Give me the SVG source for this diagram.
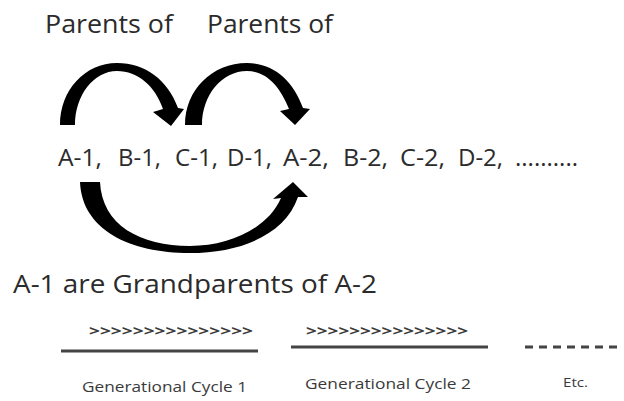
<svg xmlns="http://www.w3.org/2000/svg" width="624" height="401" viewBox="0 0 624 401">
<style>
.t{font-family:"Open Sans","Noto Sans","DejaVu Sans",sans-serif;fill:#2b2b2b}
.big{font-size:25px}
.mid{font-size:23px}
.sm{font-size:15px;fill:#3a3a3a}
.chev{font-size:15px;fill:#3a3a3a;font-weight:bold}
.xs{font-size:12px;fill:#3a3a3a}
.arr{fill:#000}
.rule{stroke:#444;stroke-width:3;fill:none}
</style>
<rect width="624" height="401" fill="#fff"/>
<g id="label-parents-1"><text class="t big" x="45" y="33" textLength="128" lengthAdjust="spacingAndGlyphs">Parents of</text></g>
<g id="label-parents-2"><text class="t big" x="207" y="33" textLength="126" lengthAdjust="spacingAndGlyphs">Parents of</text></g>
<g id="sequence">
<text class="t mid" x="58" y="166" textLength="44" lengthAdjust="spacingAndGlyphs">A-1,</text>
<text class="t mid" x="118" y="166" textLength="43" lengthAdjust="spacingAndGlyphs">B-1,</text>
<text class="t mid" x="175" y="166" textLength="43" lengthAdjust="spacingAndGlyphs">C-1,</text>
<text class="t mid" x="227" y="166" textLength="45" lengthAdjust="spacingAndGlyphs">D-1,</text>
<text class="t mid" x="283" y="166" textLength="46" lengthAdjust="spacingAndGlyphs">A-2,</text>
<text class="t mid" x="343" y="166" textLength="45" lengthAdjust="spacingAndGlyphs">B-2,</text>
<text class="t mid" x="400" y="166" textLength="45" lengthAdjust="spacingAndGlyphs">C-2,</text>
<text class="t mid" x="458" y="166" textLength="45" lengthAdjust="spacingAndGlyphs">D-2,</text>
<text class="t mid" x="515" y="166" textLength="63" lengthAdjust="spacingAndGlyphs">..........</text>
</g>
<g id="label-grandparents"><text class="t big" x="13" y="293" textLength="364" lengthAdjust="spacingAndGlyphs">A-1 are Grandparents of A-2</text></g>
<g id="connectors">
<path class="arr" d="M60,125 C60,90 85,63 117,63 C145,63 168,80 178,108 L184,109 L171,126 L153,112 L163,109 C155,86 138,71 117,71 C94,71 75,95 75,125 Z"/>
<path class="arr" d="M185,125 C185,90 212,63 247,63 C273,63 293,80 303,108 L310,109 L295,125 L280,111 L289,109 C280,86 266,71 247,71 C222,71 202,95 202,125 Z"/>
<path class="arr" d="M80,182 L100,182 C102,225 140,246 190,246 C230,246 268,228 281,198 L273,199 L293,182 L308,197 L298,197 C285,235 240,253 190,253 C130,253 82,230 80,182 Z"/>
</g>
<g id="cycle-1">
<text class="t chev" x="89" y="336" textLength="164" lengthAdjust="spacingAndGlyphs">&gt;&gt;&gt;&gt;&gt;&gt;&gt;&gt;&gt;&gt;&gt;&gt;&gt;&gt;&gt;</text>
<line class="rule" x1="61" y1="351" x2="258" y2="351"/>
<text class="t sm" x="82" y="392" textLength="165" lengthAdjust="spacingAndGlyphs">Generational Cycle 1</text>
</g>
<g id="cycle-2">
<text class="t chev" x="306" y="336" textLength="162" lengthAdjust="spacingAndGlyphs">&gt;&gt;&gt;&gt;&gt;&gt;&gt;&gt;&gt;&gt;&gt;&gt;&gt;&gt;&gt;</text>
<line class="rule" x1="291" y1="347" x2="488" y2="347"/>
<text class="t sm" x="305" y="389" textLength="166" lengthAdjust="spacingAndGlyphs">Generational Cycle 2</text>
</g>
<g id="etc">
<line class="rule" x1="525" y1="347" x2="617" y2="347" stroke-dasharray="8 6" stroke-width="2.5"/>
<text class="t xs" x="563" y="387" textLength="25" lengthAdjust="spacingAndGlyphs">Etc.</text>
</g>
</svg>
